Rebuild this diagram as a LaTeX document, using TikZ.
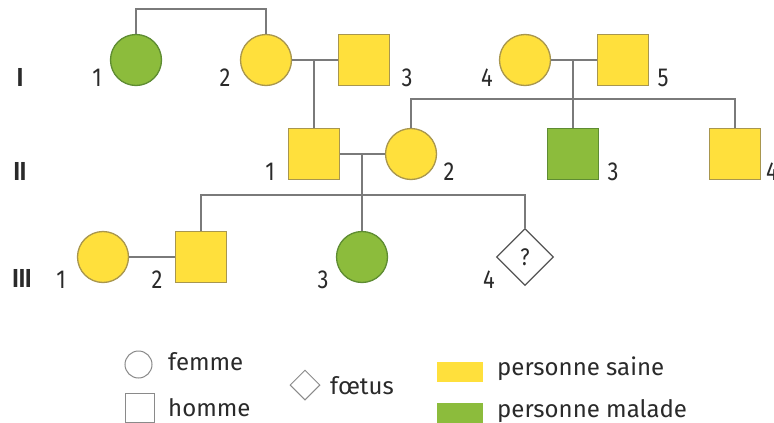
\documentclass[tikz,border=0pt]{standalone}
\usepackage{fontspec}
\setmainfont{Fira Sans}
\newfontfamily\labf{Fira Sans}[FakeStretch=0.84]
\usetikzlibrary{shapes.geometric}
\definecolor{ylw}{HTML}{FFE03C}
\definecolor{ylwd}{HTML}{A8964E}
\definecolor{grn}{HTML}{8CBC3C}
\definecolor{grnd}{HTML}{5E8C32}
\definecolor{lnc}{HTML}{7A7A7A}
\definecolor{txt}{HTML}{2A2A2A}
\definecolor{lgd}{HTML}{8A8A8A}
\tikzset{
  fem/.style={circle, minimum size=51pt, inner sep=0pt, line width=1.3pt},
  hom/.style={rectangle, minimum size=51pt, inner sep=0pt, line width=1.3pt},
  sain/.style={fill=ylw, draw=ylwd},
  mal/.style={fill=grn, draw=grnd},
  conn/.style={draw=lnc, line width=1.3pt},
  lbl/.style={text=txt, inner sep=0pt, anchor=base, font=\labf\fontsize{26}{26}\selectfont},
  gen/.style={lbl, font=\labf\fontsize{26}{26}\selectfont\bfseries},
  lgtxt/.style={text=txt, inner sep=0pt, anchor=base west, font=\fontsize{24}{24}\selectfont},
}
\begin{document}
\begin{tikzpicture}[x=1pt,y=-1pt]
\path[fill=white] (0,0) rectangle (774,423);
\useasboundingbox (0,0) rectangle (774,423);
% generation I
\node[fem,mal] (i1) at (136,60) {};
\node[fem,sain] (i2) at (266,60) {};
\node[hom,sain] (i3) at (364,60) {};
\node[fem,sain] (i4) at (525,60) {};
\node[hom,sain] (i5) at (623,60) {};
% generation II
\node[hom,sain] (ii1) at (314,154) {};
\node[fem,sain] (ii2) at (411,154) {};
\node[hom,mal] (ii3) at (573,154) {};
\node[hom,sain] (ii4) at (735,154) {};
% generation III
\node[fem,sain] (iii1) at (103,257) {};
\node[hom,sain] (iii2) at (201,257) {};
\node[fem,mal] (iii3) at (362,257) {};
\node[diamond, draw=txt!80, fill=white, line width=1.2pt, minimum size=57pt, inner sep=0pt, text=txt, font=\labf\fontsize{24}{24}\selectfont] (iii4) at (525,257) {?};
% connectors
\draw[conn] (i1.north) -- ++(0,-25) coordinate (t1) -| (i2.north);
\draw[conn] (i2.east) -- (i3.west);
\coordinate (m1) at (314,60);
\draw[conn] (m1) -- (ii1.north);
\draw[conn] (i4.east) -- (i5.west);
\coordinate (m2) at (573,60);
\coordinate (s2) at (573,99);
\draw[conn] (m2) -- (ii3.north);
\draw[conn] (ii2.north) -- (ii2.north |- s2) -- (ii4.north |- s2) -- (ii4.north);
\draw[conn] (ii1.east) -- (ii2.west);
\coordinate (m3) at (362,154);
\coordinate (s3) at (362,195);
\draw[conn] (m3) -- (iii3.north);
\draw[conn] (iii2.north) -- (iii2.north |- s3) -- (iii4.north |- s3) -- (iii4.north);
\draw[conn] (iii1.east) -- (iii2.west);
% labels
\node[gen] (gI) at (20,86) {I};
\node[lbl] (l11) at (97,86) {1};
\node[lbl] (l12) at (225,86) {2};
\node[lbl] (l13) at (407,86) {3};
\node[lbl] (l14) at (487,86) {4};
\node[lbl] (l15) at (663,86) {5};
\node[gen] (gII) at (20,180) {II};
\node[lbl] (l21) at (270,180) {1};
\node[lbl] (l22) at (449,180) {2};
\node[lbl] (l23) at (613,180) {3};
\node[lbl, anchor=base west] (l24) at (766,180) {4};
\node[gen] (gIII) at (22,287) {III};
\node[lbl] (l31) at (61,288) {1};
\node[lbl] (l32) at (157,288) {2};
\node[lbl] (l33) at (323,288) {3};
\node[lbl] (l34) at (489,288) {4};
% legend
\node[circle, draw=lgd, line width=1pt, minimum size=27pt, inner sep=0pt] (lgf) at (138.5,364.5) {};
\node[lgtxt] (tf) at (168,370) {femme};
\node[rectangle, draw=lgd, line width=1pt, minimum size=29pt, inner sep=0pt] (lgh) at (140,408) {};
\node[lgtxt] (th) at (168,416) {homme};
\node[diamond, draw=lgd, line width=1pt, minimum size=30pt, inner sep=0pt] (lgd) at (305,385) {};
\node[lgtxt] (tfo) at (330,394) {fœtus};
\node[rectangle, fill=ylw, minimum width=46pt, minimum height=20pt, inner sep=0pt] (lgs) at (460,372) {};
\node[lgtxt] (ts) at (497,375) {personne saine};
\node[rectangle, fill=grn, minimum width=46pt, minimum height=20pt, inner sep=0pt] (lgm) at (460,413) {};
\node[lgtxt] (tm) at (497,417) {personne malade};
\end{tikzpicture}
\end{document}
